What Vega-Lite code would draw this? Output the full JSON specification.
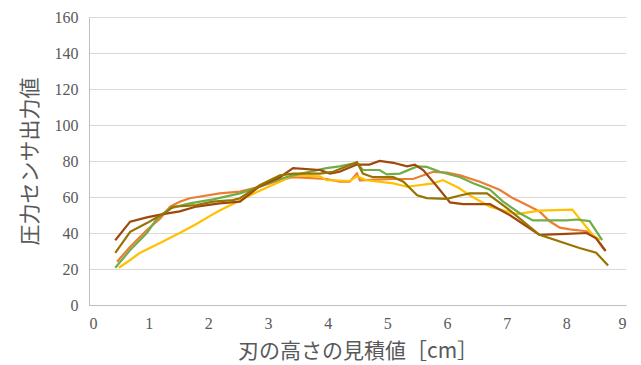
{
  "$schema": "https://vega.github.io/schema/vega-lite/v6.json",
  "width": 537,
  "height": 288,
  "autosize": "none",
  "padding": {"left": 89, "top": 17, "right": 15, "bottom": 60},
  "background": "white",
  "config": {"view": {"stroke": null}, "axis": {"labelFont": "DejaVu Serif"}},
  "data": {"values": [
    {"s":"1","x":0.47,"y":24},{"s":"1","x":0.69,"y":32.4},{"s":"1","x":0.97,"y":41.7},{"s":"1","x":1.19,"y":48},{"s":"1","x":1.36,"y":54.6},{"s":"1","x":1.52,"y":57.4},{"s":"1","x":1.69,"y":59.3},{"s":"1","x":2.19,"y":62},{"s":"1","x":2.53,"y":63},{"s":"1","x":2.86,"y":65.7},{"s":"1","x":3.2,"y":69.4},{"s":"1","x":3.42,"y":71},{"s":"1","x":3.98,"y":70},{"s":"1","x":4.2,"y":68.5},{"s":"1","x":4.37,"y":68.5},{"s":"1","x":4.49,"y":73},{"s":"1","x":4.54,"y":69.3},{"s":"1","x":5.1,"y":70},{"s":"1","x":5.43,"y":70},{"s":"1","x":5.77,"y":74},{"s":"1","x":6.0,"y":73.5},{"s":"1","x":6.22,"y":72},{"s":"1","x":6.55,"y":68.5},{"s":"1","x":6.88,"y":64},{"s":"1","x":7.1,"y":59.4},{"s":"1","x":7.33,"y":55.7},{"s":"1","x":7.55,"y":52},{"s":"1","x":7.72,"y":46.5},{"s":"1","x":7.89,"y":43},{"s":"1","x":8.06,"y":42},{"s":"1","x":8.34,"y":41},{"s":"1","x":8.5,"y":37},{"s":"1","x":8.64,"y":30.5},
    {"s":"2","x":0.5,"y":20.7},{"s":"2","x":0.69,"y":25},{"s":"2","x":0.85,"y":28.9},{"s":"2","x":1.19,"y":34.4},{"s":"2","x":1.52,"y":40},{"s":"2","x":1.8,"y":45},{"s":"2","x":2.03,"y":49.5},{"s":"2","x":2.19,"y":52.5},{"s":"2","x":2.53,"y":58},{"s":"2","x":2.86,"y":63.5},{"s":"2","x":3.2,"y":68.5},{"s":"2","x":3.42,"y":72},{"s":"2","x":3.87,"y":71.5},{"s":"2","x":3.98,"y":69.4},{"s":"2","x":4.37,"y":68.9},{"s":"2","x":4.49,"y":71.5},{"s":"2","x":4.65,"y":69.3},{"s":"2","x":5.1,"y":67.6},{"s":"2","x":5.33,"y":65.7},{"s":"2","x":5.77,"y":67.6},{"s":"2","x":5.93,"y":69.4},{"s":"2","x":6.2,"y":65},{"s":"2","x":6.38,"y":61},{"s":"2","x":6.72,"y":54.6},{"s":"2","x":7.17,"y":50.5},{"s":"2","x":7.55,"y":52.4},{"s":"2","x":8.1,"y":53},{"s":"2","x":8.44,"y":39},{"s":"2","x":8.56,"y":36},
    {"s":"3","x":0.44,"y":20.7},{"s":"3","x":0.69,"y":30.5},{"s":"3","x":0.97,"y":40},{"s":"3","x":1.14,"y":48},{"s":"3","x":1.36,"y":53.7},{"s":"3","x":1.69,"y":56.5},{"s":"3","x":2.08,"y":58.7},{"s":"3","x":2.53,"y":62},{"s":"3","x":2.86,"y":65.7},{"s":"3","x":3.2,"y":70},{"s":"3","x":3.42,"y":72},{"s":"3","x":3.98,"y":76},{"s":"3","x":4.2,"y":77},{"s":"3","x":4.49,"y":79},{"s":"3","x":4.59,"y":75},{"s":"3","x":4.87,"y":75},{"s":"3","x":4.99,"y":72.6},{"s":"3","x":5.21,"y":73},{"s":"3","x":5.5,"y":77},{"s":"3","x":5.66,"y":76.7},{"s":"3","x":5.88,"y":74},{"s":"3","x":6.22,"y":71},{"s":"3","x":6.44,"y":67.6},{"s":"3","x":6.72,"y":64},{"s":"3","x":6.94,"y":57.4},{"s":"3","x":7.22,"y":51},{"s":"3","x":7.44,"y":47},{"s":"3","x":8.0,"y":47},{"s":"3","x":8.17,"y":47.5},{"s":"3","x":8.39,"y":46.6},{"s":"3","x":8.6,"y":36},
    {"s":"4","x":0.44,"y":36},{"s":"4","x":0.69,"y":46.3},{"s":"4","x":0.97,"y":48.7},{"s":"4","x":1.24,"y":50.5},{"s":"4","x":1.52,"y":52},{"s":"4","x":1.8,"y":54.7},{"s":"4","x":2.19,"y":56.5},{"s":"4","x":2.53,"y":57.4},{"s":"4","x":2.86,"y":66},{"s":"4","x":3.2,"y":71},{"s":"4","x":3.42,"y":76},{"s":"4","x":3.87,"y":75},{"s":"4","x":4.04,"y":73},{"s":"4","x":4.2,"y":74},{"s":"4","x":4.49,"y":78},{"s":"4","x":4.7,"y":78},{"s":"4","x":4.87,"y":80},{"s":"4","x":5.1,"y":79},{"s":"4","x":5.33,"y":77},{"s":"4","x":5.46,"y":78},{"s":"4","x":5.6,"y":75},{"s":"4","x":5.83,"y":66},{"s":"4","x":6.05,"y":57},{"s":"4","x":6.27,"y":56},{"s":"4","x":6.72,"y":56},{"s":"4","x":7.05,"y":50},{"s":"4","x":7.55,"y":39},{"s":"4","x":8.0,"y":39.5},{"s":"4","x":8.34,"y":40},{"s":"4","x":8.5,"y":37},{"s":"4","x":8.66,"y":30},
    {"s":"5","x":0.44,"y":29},{"s":"5","x":0.69,"y":40.7},{"s":"5","x":0.97,"y":45.5},{"s":"5","x":1.3,"y":51.8},{"s":"5","x":1.41,"y":54.6},{"s":"5","x":1.8,"y":55.5},{"s":"5","x":2.08,"y":57.4},{"s":"5","x":2.41,"y":58.3},{"s":"5","x":2.53,"y":59.3},{"s":"5","x":2.86,"y":66.5},{"s":"5","x":3.2,"y":72},{"s":"5","x":3.42,"y":73},{"s":"5","x":3.87,"y":73},{"s":"5","x":4.09,"y":74},{"s":"5","x":4.43,"y":78.5},{"s":"5","x":4.49,"y":79.4},{"s":"5","x":4.59,"y":73},{"s":"5","x":4.76,"y":71},{"s":"5","x":5.1,"y":71},{"s":"5","x":5.27,"y":68.5},{"s":"5","x":5.5,"y":61},{"s":"5","x":5.66,"y":59.4},{"s":"5","x":6.0,"y":59},{"s":"5","x":6.2,"y":60.7},{"s":"5","x":6.38,"y":62},{"s":"5","x":6.67,"y":62},{"s":"5","x":7.0,"y":54},{"s":"5","x":7.55,"y":39},{"s":"5","x":8.22,"y":31.7},{"s":"5","x":8.5,"y":29},{"s":"5","x":8.7,"y":22}
  ]},
  "mark": {"type": "line", "strokeWidth": 2.2, "interpolate": "linear"},
  "encoding": {
    "x": {"field": "x", "type": "quantitative",
      "scale": {"domain": [0, 9], "nice": false},
      "axis": {"values": [0,1,2,3,4,5,6,7,8,9], "grid": false, "ticks": false,
        "domainColor": "#BFBFBF", "labelFont": "Liberation Serif", "labelFontSize": 16, "labelColor": "#595959", "labelPadding": 10,
        "title": "刃の高さの見積値［cm］", "titleFont": "Noto Sans CJK JP", "titleFontSize": 21, "titleFontWeight": "normal", "titleColor": "#595959", "titlePadding": 9}},
    "y": {"field": "y", "type": "quantitative",
      "scale": {"domain": [0, 160], "nice": false},
      "axis": {"values": [0,20,40,60,80,100,120,140,160], "grid": true, "gridColor": "#D9D9D9", "gridWidth": 1, "ticks": false,
        "domainColor": "#BFBFBF", "labelFont": "Liberation Serif", "labelFontSize": 16, "labelColor": "#595959", "labelPadding": 11,
        "title": "圧力センサ出力値", "titleFont": "Noto Sans CJK JP", "titleFontSize": 21, "titleFontWeight": "normal", "titleColor": "#595959", "titlePadding": 14}},
    "color": {"field": "s", "type": "nominal",
      "scale": {"domain": ["1","2","3","4","5"], "range": ["#ED7D31","#FFC000","#70AD47","#9E480E","#997300"]},
      "legend": null}
  }
}
